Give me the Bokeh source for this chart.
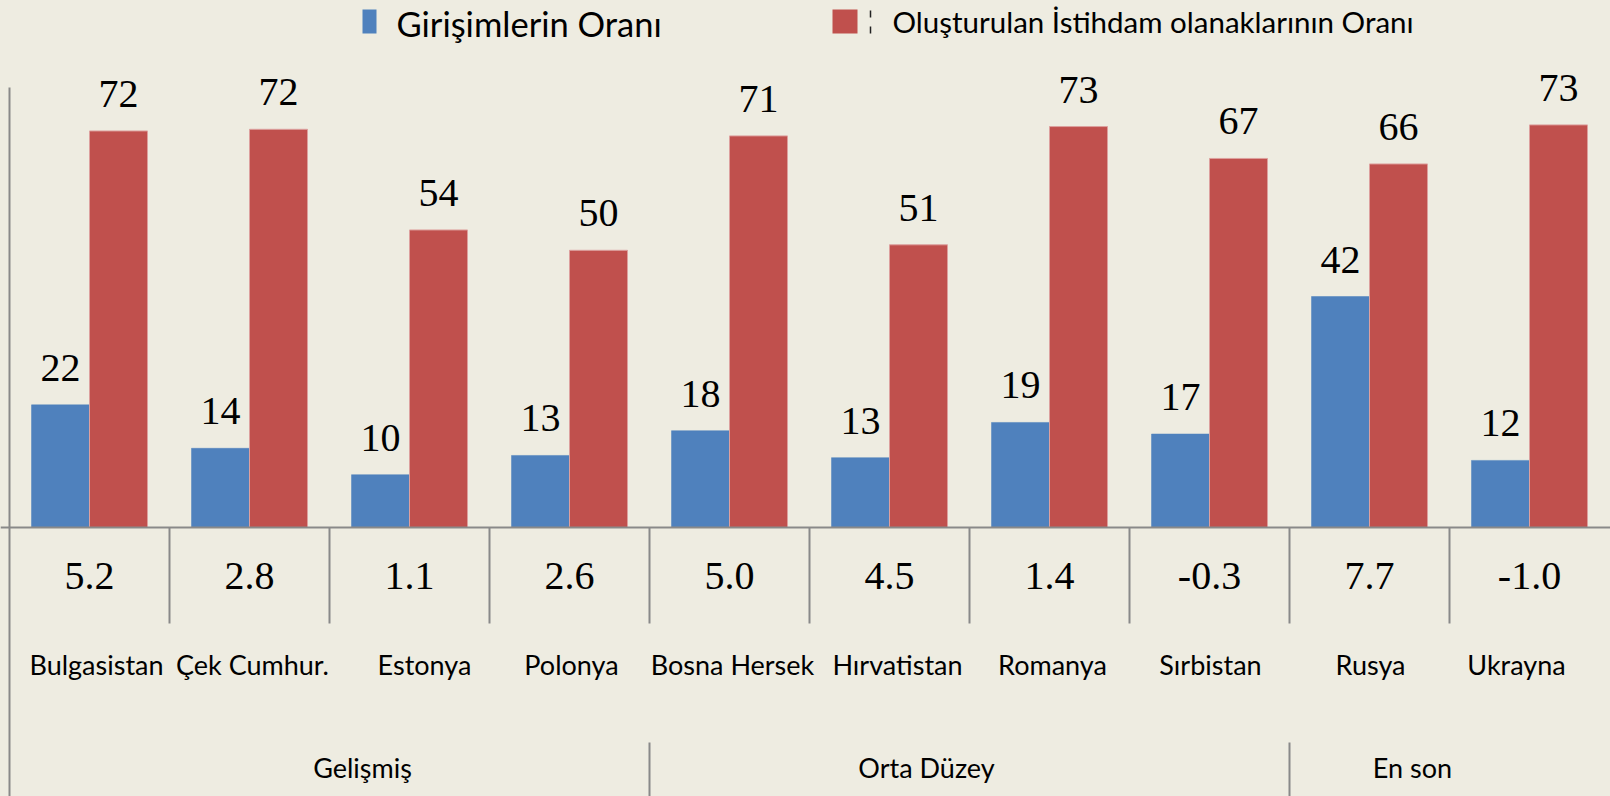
from bokeh.plotting import figure
from bokeh.models import Range1d
from bokeh.embed import file_html
from bokeh.resources import INLINE
from bokeh.core.properties import value

# ---------------- data ----------------
countries = ["Bulgasistan", "Çek Cumhur.", "Estonya", "Polonya", "Bosna Hersek",
             "Hırvatistan", "Romanya", "Sırbistan", "Rusya", "Ukrayna"]
girisim = [22.3, 14.4, 9.6, 13.1, 17.6, 12.7, 19.1, 17.0, 42.0, 12.2]
istihdam = [72.1, 72.4, 54.1, 50.4, 71.2, 51.4, 72.9, 67.1, 66.1, 73.2]
table_row = [5.2, 2.8, 1.1, 2.6, 5.0, 4.5, 1.4, -0.3, 7.7, -1.0]
groups = ["Gelişmiş", "Orta Düzey", "En son"]
group_sizes = [4, 4, 2]
series_names = ["Girişimlerin Oranı", "Oluşturulan İstihdam olanaklarının Oranı"]
y_axis_max = 80

# ---------------- style / layout ----------------
BG = "#EEECE1"
BLUE = "#4F81BD"
RED = "#C0504D"
GRID = "#898989"
SERIF = value("Liberation Serif")
SANS = value("Lato")

W, H = 1610, 796
PX_PER_CAT = 160.0
PX_PER_UNIT = 5.5
X0_PAGE = 9      # page x of category axis origin
Y0_PAGE = 527    # page y of value 0


def X(px):
    return (px - X0_PAGE) / PX_PER_CAT


def Y(py):
    return (Y0_PAGE - py) / PX_PER_UNIT


x_start, x_end = X(0), X(W)
y_end, y_start = Y(0), Y(H)

p = figure(width=W, height=H, output_backend="svg", toolbar_location=None,
           x_range=Range1d(x_start, x_end), y_range=Range1d(y_start, y_end),
           min_border=0, min_border_left=0, min_border_right=0,
           min_border_top=0, min_border_bottom=0)
p.xaxis.visible = False
p.yaxis.visible = False
p.grid.visible = False
p.outline_line_color = None
p.background_fill_color = BG
p.border_fill_color = BG

n = len(countries)
bar_w = 58 / PX_PER_CAT
centers = [i + 0.5 for i in range(n)]
xb = [c - bar_w / 2 for c in centers]
xr = [c + bar_w / 2 for c in centers]

p.vbar(x=xb, top=girisim, bottom=0, width=bar_w, fill_color=BLUE, line_color=BLUE, line_width=0.5)
p.vbar(x=xr, top=istihdam, bottom=0, width=bar_w, fill_color=RED, line_color="#DDA09E", line_width=1)

# bar value labels
p.text(x=xb, y=girisim, text=[str(round(v)) for v in girisim], text_align="center",
       text_baseline="alphabetic", y_offset=-37, text_font=SERIF,
       text_font_size=value("40px"), text_color="black")
p.text(x=xr, y=istihdam, text=[str(round(v)) for v in istihdam], text_align="center",
       text_baseline="alphabetic", y_offset=-37, text_font=SERIF,
       text_font_size=value("40px"), text_color="black")

# axes lines
p.segment(x0=[x_start], y0=[0], x1=[x_end], y1=[0], line_color=GRID, line_width=2)
p.segment(x0=[0], y0=[y_axis_max], x1=[0], y1=[y_start], line_color=GRID, line_width=2)

# table dividers
p.segment(x0=list(range(1, n)), y0=[0] * (n - 1), x1=list(range(1, n)),
          y1=[Y(623)] * (n - 1), line_color=GRID, line_width=2)
bounds = []
acc = 0
for s in group_sizes[:-1]:
    acc += s
    bounds.append(acc)
p.segment(x0=bounds, y0=[Y(742)] * len(bounds), x1=bounds, y1=[y_start] * len(bounds),
          line_color=GRID, line_width=2)

# table row values
p.text(x=centers, y=[Y(575)] * n, text=["%.1f" % v for v in table_row],
       text_align="center", text_baseline="alphabetic", text_font=SERIF,
       text_font_size=value("40px"), text_color="black")

# country labels
country_dx = [7, 3, 15, 2, 3, 8, 3, 1, 1, -13]
p.text(x=centers, y=[Y(664)] * n, text=countries, x_offset=country_dx,
       text_align="center", text_baseline="alphabetic", text_font=SANS,
       text_font_size=value("27px"), text_color="black")

# group labels
gcent = []
acc = 0
for s in group_sizes:
    gcent.append(acc + s / 2)
    acc += s
group_dx = [33, -43, -37]
p.text(x=gcent, y=[Y(767)] * len(groups), text=groups, x_offset=group_dx,
       text_align="center", text_baseline="alphabetic", text_font=SANS,
       text_font_size=value("27px"), text_color="black")

# legend
p.rect(x=[X(369)], y=[Y(21)], width=14 / PX_PER_CAT, height=24 / PX_PER_UNIT,
       fill_color=BLUE, line_color=None)
p.text(x=[X(396)], y=[Y(23)], text=[series_names[0]], text_align="left",
       text_baseline="alphabetic", text_font=SANS, text_font_size=value("34.5px"),
       text_color="black")
p.rect(x=[X(844.5)], y=[Y(21)], width=25 / PX_PER_CAT, height=24 / PX_PER_UNIT,
       fill_color=RED, line_color=None)
p.segment(x0=[X(870)], y0=[Y(10)], x1=[X(870)], y1=[Y(33)], line_color="#222222",
          line_width=1.5, line_dash="7 9")
p.text(x=[X(892)], y=[Y(21)], text=[series_names[1]], text_align="left",
       text_baseline="alphabetic", text_font=SANS, text_font_size=value("29.5px"),
       text_color="black")

html = file_html(p, INLINE)
html = html.replace("</head>", "<style>html,body{background-color:%s;}</style></head>" % BG, 1)
open("out.html", "w").write(html)
